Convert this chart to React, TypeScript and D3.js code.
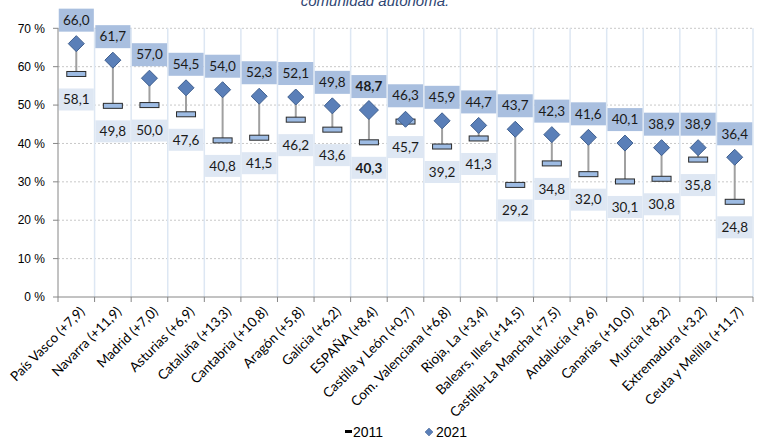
import React from "react";
import * as d3 from "d3";

const categories = [
  "País Vasco (+7,9)", "Navarra (+11,9)", "Madrid (+7,0)", "Asturias (+6,9)",
  "Cataluña (+13,3)", "Cantabria (+10,8)", "Aragón (+5,8)", "Galicia (+6,2)",
  "ESPAÑA (+8,4)", "Castilla y León (+0,7)", "Com. Valenciana (+6,8)", "Rioja, La (+3,4)",
  "Balears, Illes (+14,5)", "Castilla-La Mancha (+7,5)", "Andalucía (+9,6)", "Canarias (+10,0)",
  "Murcia (+8,2)", "Extremadura (+3,2)", "Ceuta y Melilla (+11,7)",
];
const values2011 = [58.1, 49.8, 50.0, 47.6, 40.8, 41.5, 46.2, 43.6, 40.3, 45.7, 39.2, 41.3, 29.2, 34.8, 32.0, 30.1, 30.8, 35.8, 24.8];
const values2021 = [66.0, 61.7, 57.0, 54.5, 54.0, 52.3, 52.1, 49.8, 48.7, 46.3, 45.9, 44.7, 43.7, 42.3, 41.6, 40.1, 38.9, 38.9, 36.4];
const yTicks = [0, 10, 20, 30, 40, 50, 60, 70];
const highlight = "ESPAÑA (+8,4)";
const title = "comunidad autónoma.";
const legendLabels = ["2011", "2021"];

const fmt = (v: number) => v.toFixed(1).replace(".", ",");

export default function App() {
  const W = 768, H = 448;
  const left = 58, right = 753, top = 28.3, bottom = 297;
  const x = d3.scaleBand<string>().domain(categories).range([left, right]).padding(0);
  const y = d3.scaleLinear().domain([0, 70]).range([bottom, top]);
  const bw = x.bandwidth();
  const labelFont = "Lato, 'Open Sans', sans-serif";
  const axisFont = "'Liberation Sans', Arial, sans-serif";
  const boundaries = d3.range(categories.length + 1).map((i) => left + i * bw);

  return (
    <svg width={W} height={H} style={{ position: "absolute", left: 0, top: 0, background: "#fff" }}>
      <text x={375} y={6} textAnchor="middle" fontFamily={axisFont} fontStyle="italic" fontSize={15} fill="#2f4673">{title}</text>

      {/* horizontal gridlines */}
      {yTicks.filter((t) => t > 0).map((t) => (
        <line key={"g" + t} x1={left} x2={right} y1={y(t)} y2={y(t)} stroke="#c8c8c8" strokeDasharray="2,2" strokeWidth={1} />
      ))}
      {/* vertical category lines */}
      {boundaries.slice(1).map((bx, i) => (
        <line key={"v" + i} x1={bx} x2={bx} y1={y(70)} y2={bottom} stroke="#dde7f3" strokeWidth={1.5} />
      ))}

      {/* label boxes */}
      {categories.map((c, i) => {
        const x0 = x(c)! + 0.75;
        const p21 = y(values2021[i]);
        const p11 = y(values2011[i]);
        return (
          <g key={"b" + c}>
            <rect x={x0} y={p21 - 35} width={bw - 1.5} height={23} fill="#a9bfdf" />
            <rect x={x0} y={p11 + 14.5} width={bw - 1.5} height={22} fill="#dee7f3" />
          </g>
        );
      })}

      {/* axes */}
      <line x1={left} x2={left} y1={y(70)} y2={bottom} stroke="#868686" strokeWidth={1} />
      <line x1={left} x2={right} y1={bottom} y2={bottom} stroke="#868686" strokeWidth={1} />
      {yTicks.map((t) => (
        <g key={"yt" + t}>
          <line x1={left - 5} x2={left} y1={y(t)} y2={y(t)} stroke="#868686" />
          <text x={45} y={y(t)} dy="0.35em" textAnchor="end" fontFamily={axisFont} fontSize={12} fill="#000">{t + " %"}</text>
        </g>
      ))}
      {boundaries.map((bx, i) => (
        <line key={"xt" + i} x1={bx} x2={bx} y1={bottom} y2={bottom + 5} stroke="#868686" />
      ))}

      {/* marks */}
      {categories.map((c, i) => {
        const cx = x(c)! + bw / 2;
        const p21 = y(values2021[i]);
        const p11 = y(values2011[i]);
        const big = c === highlight;
        const d = big ? 9.5 : 8;
        return (
          <g key={"m" + c}>
            <line x1={cx} x2={cx} y1={p21} y2={p11} stroke="#a0a0a0" strokeWidth={2} />
            <rect x={cx - 9.5} y={p11 - 2.5} width={19} height={5} fill="#9dbbe3" stroke="#2b2b2b" strokeWidth={1} />
            <path d={`M${cx},${p21 - d}L${cx + d},${p21}L${cx},${p21 + d}L${cx - d},${p21}Z`} fill="#5a7fb8" stroke="#3f5f8f" strokeWidth={1} />
            <text x={cx} y={p21 - 23.5} dy="0.35em" textAnchor="middle" fontFamily={labelFont} fontSize={13.5} fontWeight={big ? 700 : 400} fill="#1a1a1a">{fmt(values2021[i])}</text>
            <text x={cx} y={p11 + 25.5} dy="0.35em" textAnchor="middle" fontFamily={labelFont} fontSize={13.5} fontWeight={big ? 700 : 400} fill="#1a1a1a">{fmt(values2011[i])}</text>
          </g>
        );
      })}

      {/* x labels */}
      {categories.map((c) => {
        const cx = x(c)! + bw / 2;
        return (
          <text key={"xl" + c} transform={`translate(${cx + 6},${bottom + 12}) rotate(-45)`} textAnchor="end" dy="0.35em" fontFamily={labelFont} fontSize={13.5} fill="#000">{c}</text>
        );
      })}

      {/* legend */}
      <rect x={345} y={430} width={7} height={3} fill="#000" />
      <text x={353} y={437} fontFamily={axisFont} fontSize={14} fill="#000">{legendLabels[0]}</text>
      <path d="M429,428L433,432L429,436L425,432Z" fill="#5a7fb8" stroke="#3f5f8f" strokeWidth={0.5} />
      <text x={436} y={437} fontFamily={axisFont} fontSize={14} fill="#000">{legendLabels[1]}</text>
    </svg>
  );
}
